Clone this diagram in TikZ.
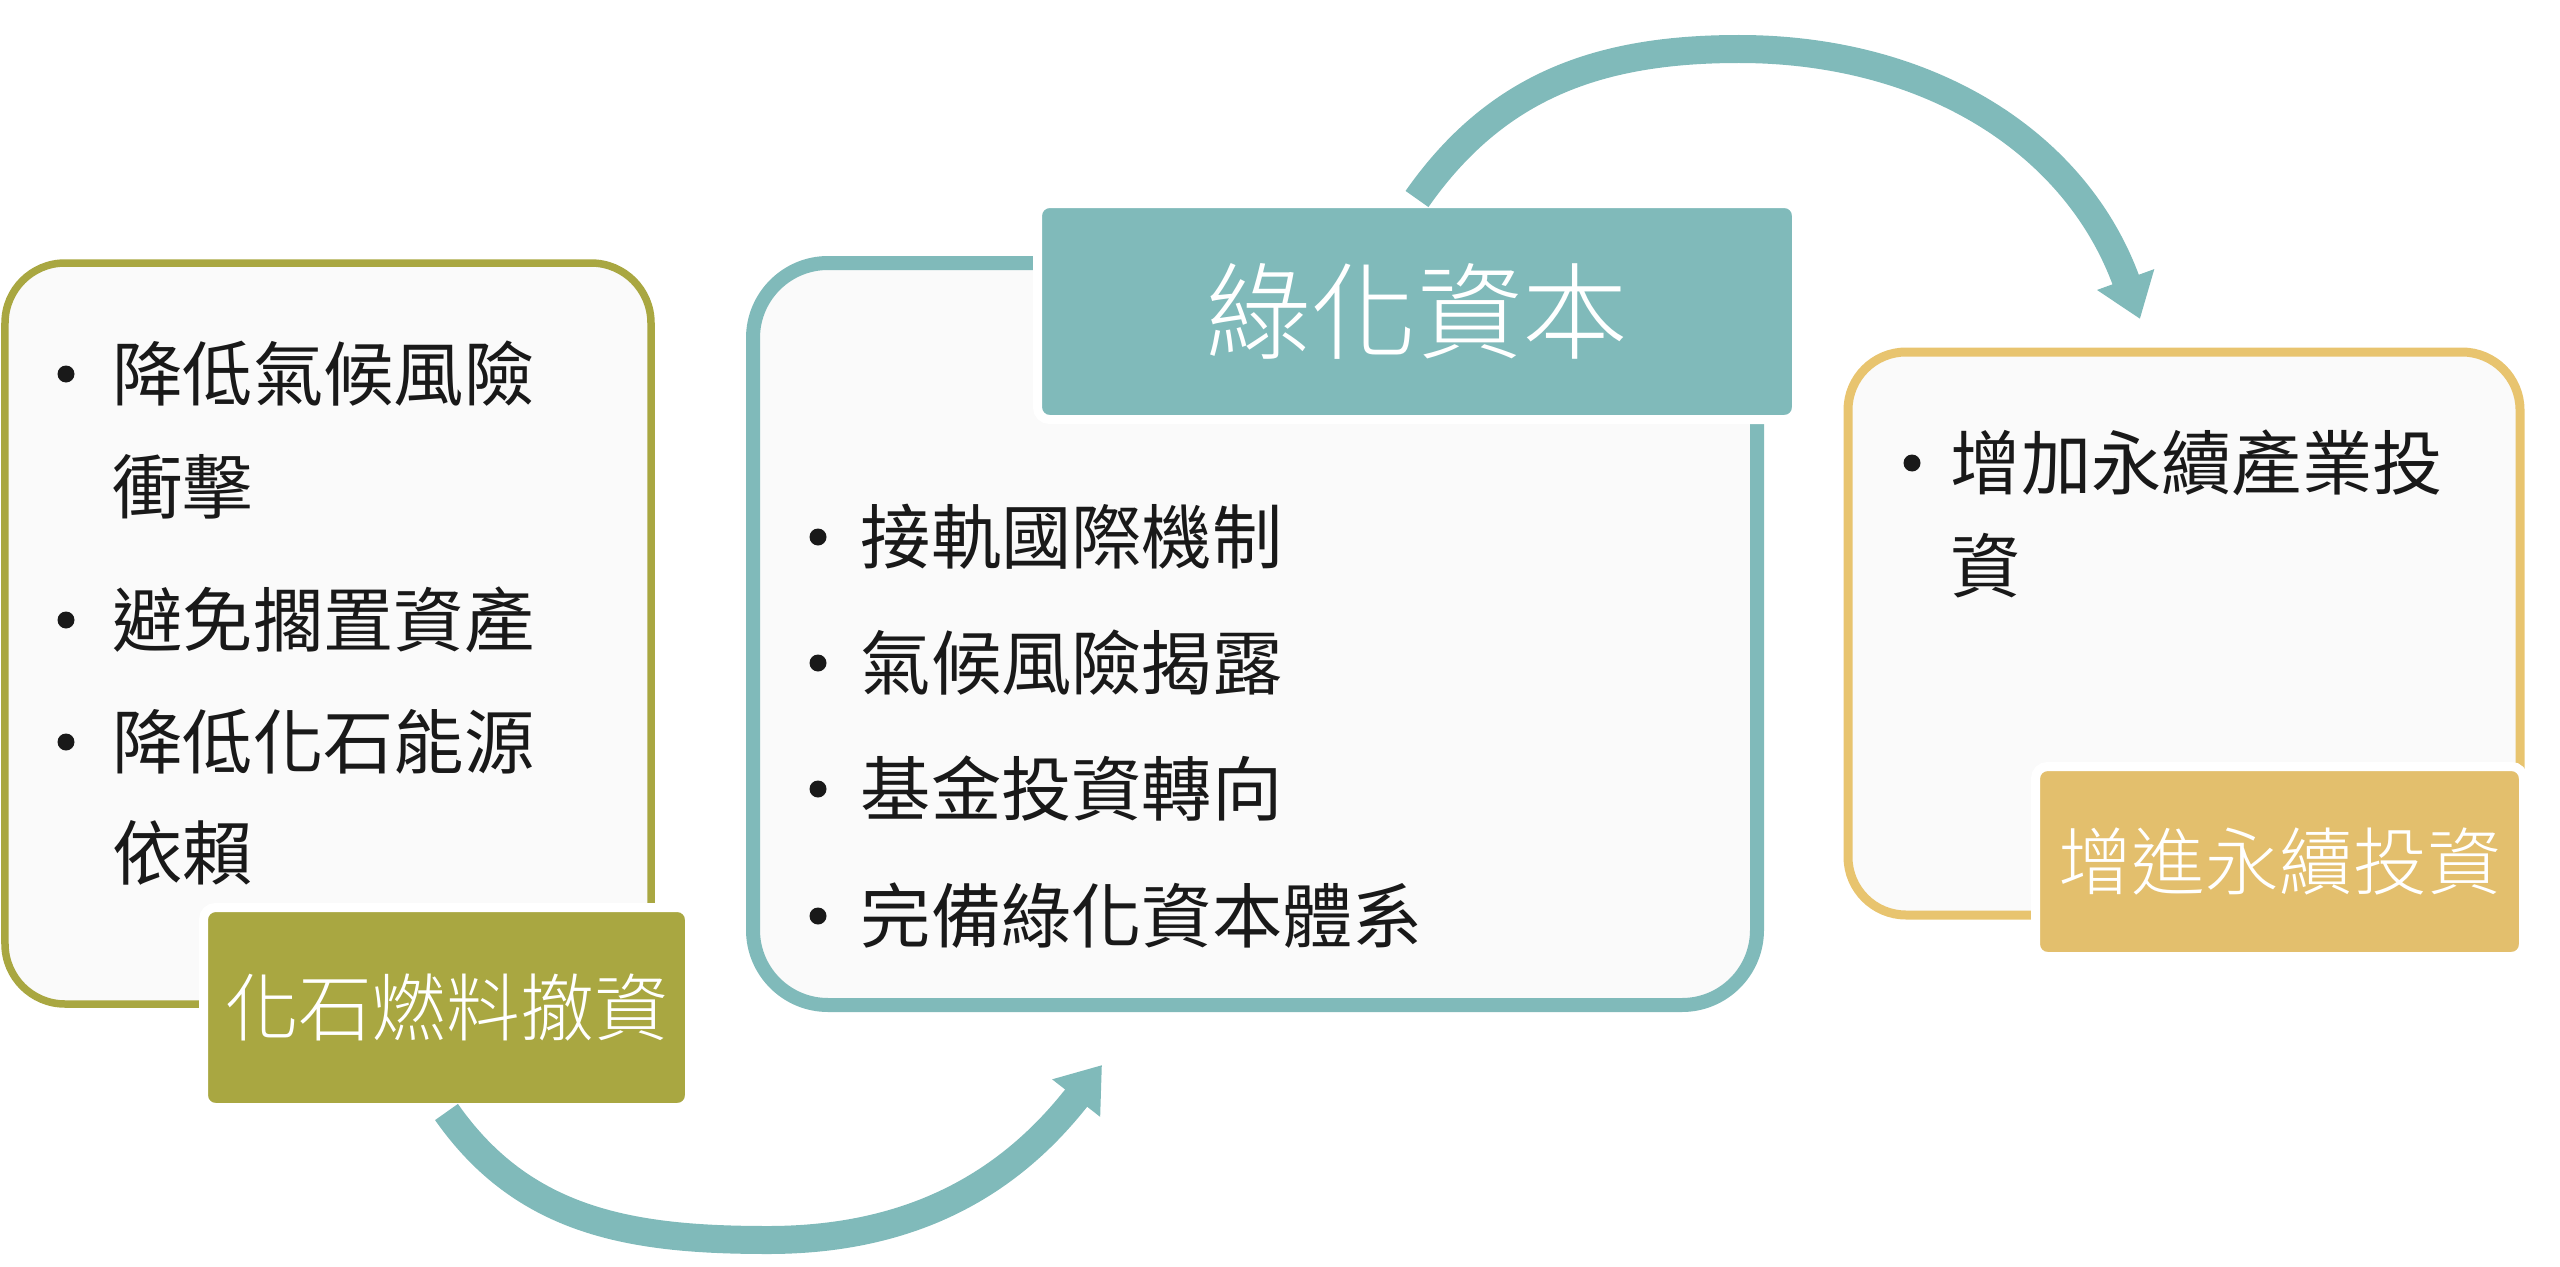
\documentclass[tikz,border=0pt]{standalone}
\usepackage{fontspec}
\setmainfont{Noto Sans CJK TC}
\newfontfamily\thincjk{Noto Sans CJK TC Light}
\usepackage{tikz}
\usetikzlibrary{positioning,arrows.meta}

\definecolor{fossilc}{HTML}{A9A741}
\definecolor{tealc}{HTML}{80BABA}
\definecolor{sustc}{HTML}{E8C46F}
\definecolor{goldc}{HTML}{E3BF6D}
\definecolor{paper}{HTML}{FAFAFA}

\begin{document}
\begin{tikzpicture}[
    outerbox/.style={draw, fill=paper},
    labelbox/.style={draw=white, line width=0.09cm, rounded corners=0.12cm, text=white, inner sep=0, font=\thincjk\fontsize{21}{25}\selectfont},
    txt/.style={anchor=west, inner sep=0, text=black!90, font=\fontsize{20}{24}\selectfont},
    bul/.style={circle, fill=black!90, inner sep=0, minimum size=0.17cm},
    bendarrow/.style={draw=tealc, line width=0.28cm, -{Triangle[length=0.42cm,width=0.58cm]}}
]
    \useasboundingbox (0,0) rectangle (25.6,12.66);

    % three panels
    \node[outerbox, draw=fossilc, line width=0.075cm, rounded corners=0.6cm, minimum width=6.46cm, minimum height=7.41cm] (divest) at (3.28,6.325) {};
    \node[outerbox, draw=tealc, line width=0.14cm, rounded corners=0.75cm, minimum width=10.04cm, minimum height=7.42cm] (green) at (12.55,6.32) {};
    \node[outerbox, draw=sustc, line width=0.09cm, rounded corners=0.58cm, minimum width=6.72cm, minimum height=5.63cm] (sustain) at (21.84,6.325) {};

    % titles
    \node[labelbox, fill=fossilc, minimum width=4.86cm, minimum height=2.0cm] (divestlbl) at (4.465,2.585) {化石燃料撤資};
    \node[labelbox, fill=tealc, minimum width=7.59cm, minimum height=2.16cm, font=\thincjk\fontsize{30}{36}\selectfont] (greenlbl) at (14.17,9.545) {綠化資本};
    \node[labelbox, fill=goldc, minimum width=4.88cm, minimum height=1.9cm] (sustainlbl) at (22.795,4.045) {增進永續投資};

    % left list
    \node[bul] (d1) at (0.66,8.92) {};
    \node[txt] (d1a) at (1.12,8.92) {降低氣候風險};
    \node[txt] (d1b) at (1.12,7.79) {衝擊};
    \node[bul] (d2) at (0.66,6.46) {};
    \node[txt] (d2a) at (1.12,6.46) {避免擱置資產};
    \node[bul] (d3) at (0.66,5.24) {};
    \node[txt] (d3a) at (1.12,5.24) {降低化石能源};
    \node[txt] (d3b) at (1.12,4.13) {依賴};

    % middle list
    \node[bul] (g1) at (8.18,7.29) {};
    \node[txt] (g1a) at (8.60,7.29) {接軌國際機制};
    \node[bul] (g2) at (8.18,6.03) {};
    \node[txt] (g2a) at (8.60,6.03) {氣候風險揭露};
    \node[bul] (g3) at (8.18,4.77) {};
    \node[txt] (g3a) at (8.60,4.77) {基金投資轉向};
    \node[bul] (g4) at (8.18,3.50) {};
    \node[txt] (g4a) at (8.60,3.50) {完備綠化資本體系};

    % right list
    \node[bul] (s1) at (19.12,8.03) {};
    \node[txt] (s1a) at (19.50,8.03) {增加永續產業投};
    \node[txt] (s1b) at (19.50,7.00) {資};

    % arrows
    \coordinate (lowA) at (7.68,0.26);
    \coordinate (tipA) at (11.02,2.01);
    \draw[bendarrow] (divestlbl.south) to[out=-55,in=180] (lowA) to[out=0,in=232] (tipA);
    \coordinate (topB) at (17.39,12.17);
    \coordinate (tipB) at (21.40,9.47);
    \draw[bendarrow] (greenlbl.north) to[out=55,in=180] (topB) to[out=0,in=110] (tipB);
\end{tikzpicture}
\end{document}
